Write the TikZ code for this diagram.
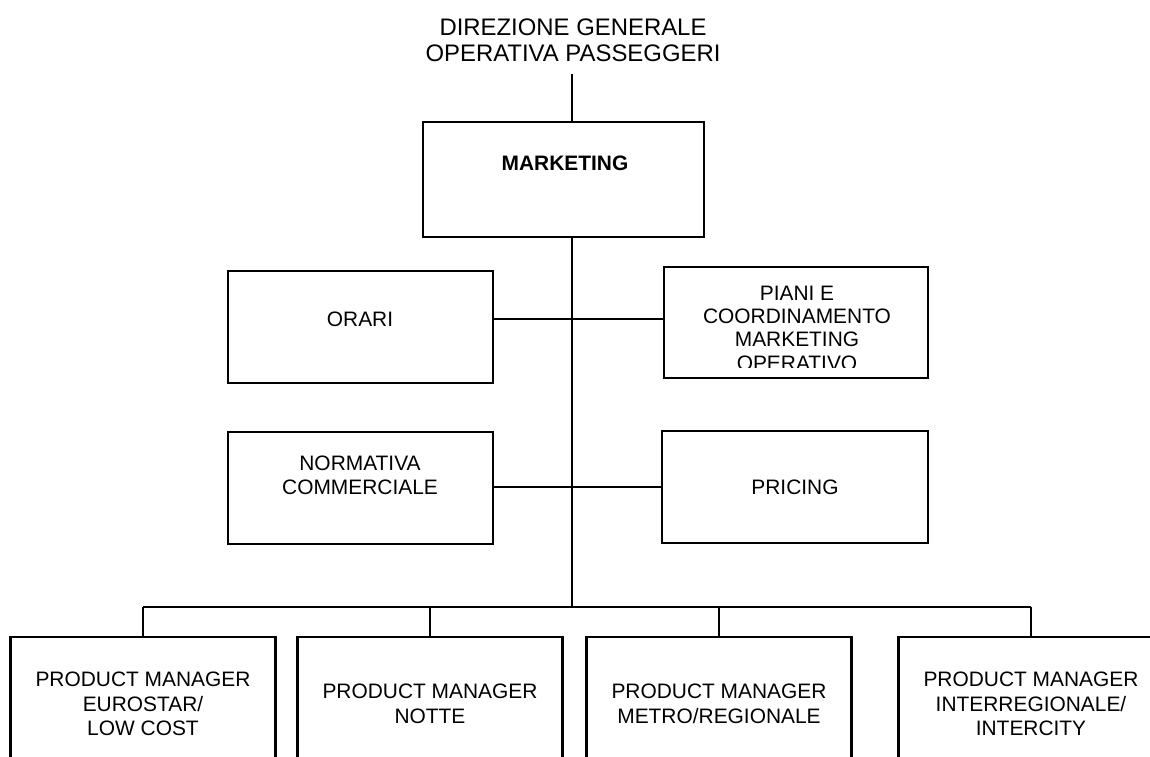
\documentclass[tikz,border=0pt]{standalone}
\usepackage{fontspec}
\setmainfont{Liberation Sans}
\newcommand\corpo{\fontsize{11.9pt}{13.9pt}\selectfont}
\newcommand\titolo{\fontsize{13.6pt}{14.7pt}\selectfont}
\tikzset{ufficio/.style={draw, line width=1.3pt, rectangle, inner sep=0pt, minimum width=5.3cm, minimum height=2.24cm, align=center, font=\corpo}}
\tikzset{testo/.style={align=center, font=\corpo, inner sep=0pt}}
\tikzset{linea/.style={line width=1pt}}

\begin{document}
\begin{tikzpicture}
      \clip (0,0) rectangle (23,15.12);
      \node[testo, font=\titolo] (dir) at (11.46,14.32) {DIREZIONE GENERALE\\OPERATIVA PASSEGGERI};
      \coordinate (top) at (11.44,13.64);
      \coordinate (bus) at (11.44,2.98);
      \node[ufficio, minimum width=5.62cm, minimum height=2.3cm] (mkt) at (11.27,11.53) {};
      \node[testo, font=\corpo\bfseries] (mktT) at (11.30,11.86) {MARKETING};
      \node[ufficio] (orari) at (7.21,8.58) {};
      \node[testo] (oraT) at (7.20,8.74) {ORARI};
      \node[ufficio, minimum width=5.28cm, minimum height=2.22cm] (piani) at (15.92,8.67) {};
      \begin{scope}
        \clip (13.28,9.78) rectangle (18.56,7.76);
        \node[testo, font=\fontsize{11.9pt}{13.3pt}\selectfont] (pianiT) at (15.94,8.56) {PIANI E\\COORDINAMENTO\\MARKETING\\OPERATIVO};
      \end{scope}
      \node[ufficio] (norm) at (7.21,5.36) {};
      \node[testo, font=\fontsize{11.9pt}{13.6pt}\selectfont] (normT) at (7.20,5.62) {NORMATIVA\\COMMERCIALE};
      \node[ufficio, minimum width=5.32cm] (pricing) at (15.90,5.38) {PRICING};
      \foreach \x/\n/\t in {2.86/1/{PRODUCT MANAGER\\EUROSTAR/\\LOW COST},8.60/2/{PRODUCT MANAGER\\NOTTE},14.38/3/{PRODUCT MANAGER\\METRO/REGIONALE},20.62/4/{PRODUCT MANAGER\\INTERREGIONALE/\\INTERCITY}}
        \node[ufficio, minimum height=2.68cm] (pm\n) at (\x,1.04) {\t};
      \draw[linea] (top) -- (top |- mkt.north);
      \draw[linea] (top |- mkt.south) -- (bus);
      \draw[linea] (orari.east |- oraT) -- (piani.west |- oraT);
      \draw[linea] (norm.east |- pricing) -- (pricing.west);
      \draw[linea] (pm1.north |- bus) -- (pm4.north |- bus);
      \foreach \n in {1,...,4}
        \draw[linea] (pm\n.north |- bus) -- (pm\n.north);
    \end{tikzpicture}
\end{document}
